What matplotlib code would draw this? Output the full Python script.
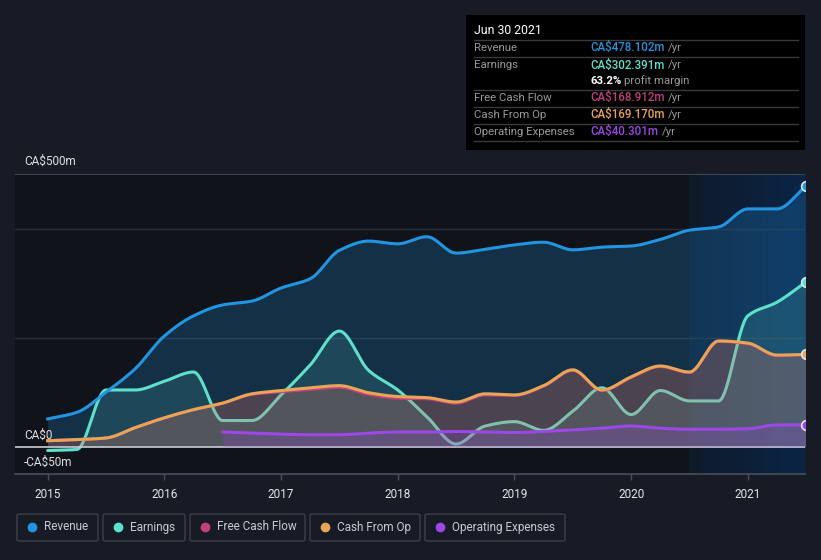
import numpy as np
import matplotlib
matplotlib.use("Agg")
import matplotlib.pyplot as plt
from matplotlib.patches import FancyBboxPatch, Rectangle
from matplotlib.lines import Line2D
from matplotlib.colors import LinearSegmentedColormap

plt.rcParams['font.family'] = ['Roboto', 'DejaVu Sans']

# ---------------- data (CA$ millions, trailing twelve months) ----------------
dates = [2015.0, 2015.25, 2015.5, 2015.75, 2016.0, 2016.25, 2016.5, 2016.75,
         2017.0, 2017.25, 2017.5, 2017.75, 2018.0, 2018.25, 2018.5, 2018.75,
         2019.0, 2019.25, 2019.5, 2019.75, 2020.0, 2020.25, 2020.5, 2020.75,
         2021.0, 2021.25, 2021.5]
revenue = [51, 63, 100, 143, 203, 240, 260, 267, 291, 308, 360, 377, 372, 385,
           355, 362, 370, 375, 361, 366, 368, 380, 397, 403, 436, 436, 478.102]
earnings = [-7, -5, 104, 104, 120, 137, 48, 48, 95, 150, 212, 140, 104, 55,
            5, 38, 46, 30, 65, 108, 59, 103, 84, 84, 240, 265, 302.391]
cash_from_op = [11, 13, 16, 35, 53, 68, 80, 97, 103, 108, 112, 99, 92, 90, 82,
                97, 95, 112, 141, 104, 128, 148, 137, 194, 190, 168, 169.170]
free_cash_flow = [11, 13, 16, 35, 53, 68, 80, 96, 101, 105, 109, 96, 89, 88, 80,
                  95, 94, 111, 140, 103, 127, 147, 136, 193, 189, 167, 168.912]
opex_dates = dates[6:]
operating_expenses = [27, 25, 23, 22, 22, 25, 27, 27, 28, 27, 26, 28, 31, 34,
                      38, 34, 32, 32, 33, 40, 40.301]

year_ticks = [2015, 2016, 2017, 2018, 2019, 2020, 2021]
series_names = ["Revenue", "Earnings", "Free Cash Flow", "Cash From Op", "Operating Expenses"]
tooltip_values = ["CA$478.102m", "CA$302.391m", "CA$168.912m", "CA$169.170m", "CA$40.301m"]

C_REV = '#2394df'
C_EARN = '#5fe0cb'
C_FCF = '#c2407d'
C_CFO = '#e8a556'
C_OPEX = '#9c48e6'
BG = '#161b26'
PLOT_BG = '#10131a'


def smooth(x, y, n=30):
    """Monotone cubic (Fritsch-Carlson) curve through the points, for drawing."""
    x = np.asarray(x, float); y = np.asarray(y, float)
    h = np.diff(x); d = np.diff(y) / h
    m = np.zeros_like(y)
    m[0], m[-1] = d[0], d[-1]
    for i in range(1, len(y) - 1):
        if d[i - 1] * d[i] <= 0:
            m[i] = 0
        else:
            w1 = 2 * h[i] + h[i - 1]; w2 = h[i] + 2 * h[i - 1]
            m[i] = (w1 + w2) / (w1 / d[i - 1] + w2 / d[i])
    xs, ys = [], []
    for i in range(len(x) - 1):
        t = np.linspace(0, 1, n, endpoint=False)
        h00 = 2 * t**3 - 3 * t**2 + 1; h10 = t**3 - 2 * t**2 + t
        h01 = -2 * t**3 + 3 * t**2; h11 = t**3 - t**2
        xs.append(x[i] + t * h[i])
        ys.append(h00 * y[i] + h10 * h[i] * m[i] + h01 * y[i + 1] + h11 * h[i] * m[i + 1])
    xs.append([x[-1]]); ys.append([y[-1]])
    return np.concatenate(xs), np.concatenate(ys)


W, H = 821, 560
fig = plt.figure(figsize=(W / 100, H / 100), dpi=100)
fig.patch.set_facecolor(BG)

L, R, T, B = 15, 805, 174, 474
ax = fig.add_axes([L / W, 1 - B / H, (R - L) / W, (B - T) / H])
ax.set_facecolor(PLOT_BG)
x0, x1 = 2014.72, 2021.49
ax.set_xlim(x0, x1)
ax.set_ylim(-50, 500)

# highlighted last-year region with gradient
grad = np.linspace(0, 1, 256).reshape(1, -1)
cmap = LinearSegmentedColormap.from_list('hl', ['#0e1a2a', '#0b2546'])
ax.imshow(grad, extent=[2020.5, x1, -50, 500], aspect='auto', cmap=cmap,
          zorder=0.5, interpolation='bicubic')

# grid
for gy in [200, 400]:
    ax.axhline(gy, color='#262b36', lw=1, zorder=1)
ax.axhline(500, color='#4a4f5a', lw=1.2, zorder=1)
for s in ['top', 'right', 'left']:
    ax.spines[s].set_visible(False)
ax.spines['bottom'].set_color('#4a4f5a')
ax.spines['bottom'].set_linewidth(1.2)

# series
rx, ry = smooth(dates, revenue)
ex, ey = smooth(dates, earnings)
cx, cy = smooth(dates, cash_from_op)
fx, fy = smooth(dates, free_cash_flow)
ox, oy = smooth(opex_dates, operating_expenses)

ax.fill_between(rx, 0, ry, color=C_REV, alpha=0.23, lw=0, zorder=2)
ax.fill_between(ex, 0, ey, color=C_EARN, alpha=0.14, lw=0, zorder=2.1)
ax.plot(ex, ey, color=C_EARN, lw=2.2, zorder=3, solid_capstyle='round')
ax.fill_between(fx, 0, fy, color=C_FCF, alpha=0.15, lw=0, zorder=3.2)
ax.fill_between(cx, 0, cy, color=C_CFO, alpha=0.16, lw=0, zorder=3.3)
ax.plot(fx, fy, color=C_FCF, lw=2.2, zorder=3.4)
ax.plot(cx, cy, color=C_CFO, lw=2.2, zorder=3.5)
ax.fill_between(ox, 0, oy, color=C_OPEX, alpha=0.22, lw=0, zorder=3.6)
ax.plot(ox, oy, color=C_OPEX, lw=2.2, zorder=3.7)
ax.plot(rx, ry, color=C_REV, lw=2.2, zorder=4)

ax.axhline(0, color='#c8ccd4', lw=1.2, zorder=3.55)

# end markers
for xs_, ys_, c in [(dates, revenue, C_REV), (dates, earnings, C_EARN),
                    (dates, cash_from_op, C_CFO), (opex_dates, operating_expenses, C_OPEX)]:
    ax.plot([xs_[-1]], [ys_[-1]], 'o', ms=7, mfc=c, mec='#dde6f0', mew=1.2, zorder=5)

# x ticks
ax.set_xticks(year_ticks)
ax.set_xticklabels([str(y) for y in year_ticks])
ax.tick_params(axis='x', colors='#4a4f5a', length=4, width=1, labelcolor='#e6e6e6',
               labelsize=8.5, pad=6)
ax.set_yticks([])

# y labels
for val, txt, dy in [(500, 'CA$500m', 9), (0, 'CA$0', 8.5), (-50, '-CA$50m', 8.5)]:
    ax.annotate(txt, xy=(0, val), xycoords=('axes fraction', 'data'),
                xytext=(6.5, dy), textcoords='offset points', color='#e0e0e0',
                fontsize=8.5, va='center', ha='left')


# ---------------- tooltip box ----------------
def fx_(px):
    return px / W


def fy_(py):
    return 1 - py / H


fig.patches.append(Rectangle((fx_(466), fy_(150)), (805 - 466) / W, (150 - 15) / H,
                             transform=fig.transFigure, facecolor='#000000',
                             edgecolor='none', zorder=10))
fig.text(fx_(474), fy_(31), 'Jun 30 2021', color='white', fontsize=8.8,
         va='center', ha='left', zorder=11)
for sy in [40, 57, 90, 107, 124, 141]:
    fig.add_artist(Line2D([fx_(474), fx_(798)], [fy_(sy), fy_(sy)], color='#3a3a3c',
                          lw=1, transform=fig.transFigure, zorder=11))

colors = [C_REV, C_EARN, C_FCF, C_CFO, C_OPEX]
row_y = [48, 65, 98, 115, 132]
renderer = fig.canvas.get_renderer()
for ry_, lab, val, c in zip(row_y, series_names, tooltip_values, colors):
    fig.text(fx_(474), fy_(ry_), lab, color='#9a9a9a', fontsize=8.2, va='center',
             ha='left', zorder=11)
    t = fig.text(fx_(590), fy_(ry_), val, color=c, fontsize=8.3, va='center', ha='left',
                 fontweight='medium', zorder=11)
    bb = t.get_window_extent(renderer=renderer)
    fig.text(fx_(bb.x1 + 4), fy_(ry_), '/yr', color='#9a9a9a', fontsize=8.2,
             va='center', ha='left', zorder=11)
t = fig.text(fx_(590), fy_(81), '63.2%', color='white', fontsize=8.2, fontweight='bold',
             va='center', ha='left', zorder=11)
bb = t.get_window_extent(renderer=renderer)
fig.text(fx_(bb.x1 + 3), fy_(81), 'profit margin', color='#9a9a9a', fontsize=8.2,
         va='center', ha='left', zorder=11)

# ---------------- legend ----------------
legend_boxes = [(17, 98), (103, 185), (190, 305), (310, 420), (425, 565)]
for (bx0, bx1), name, c in zip(legend_boxes, series_names, colors):
    fig.patches.append(FancyBboxPatch((fx_(bx0), fy_(541)), (bx1 - bx0) / W, 27 / H,
                                      boxstyle='round,pad=0,rounding_size=0.003',
                                      transform=fig.transFigure, facecolor=BG,
                                      edgecolor='#3b404b', lw=1, zorder=10))
    fig.add_artist(Line2D([fx_(bx0 + 15)], [fy_(527)], marker='o', ms=6, color=c,
                          transform=fig.transFigure, zorder=11))
    fig.text(fx_(bx0 + 27), fy_(527), name, color='#c8cad0', fontsize=8.5,
             va='center', ha='left', zorder=11)

fig.savefig('out.png', dpi=100, facecolor=BG)
